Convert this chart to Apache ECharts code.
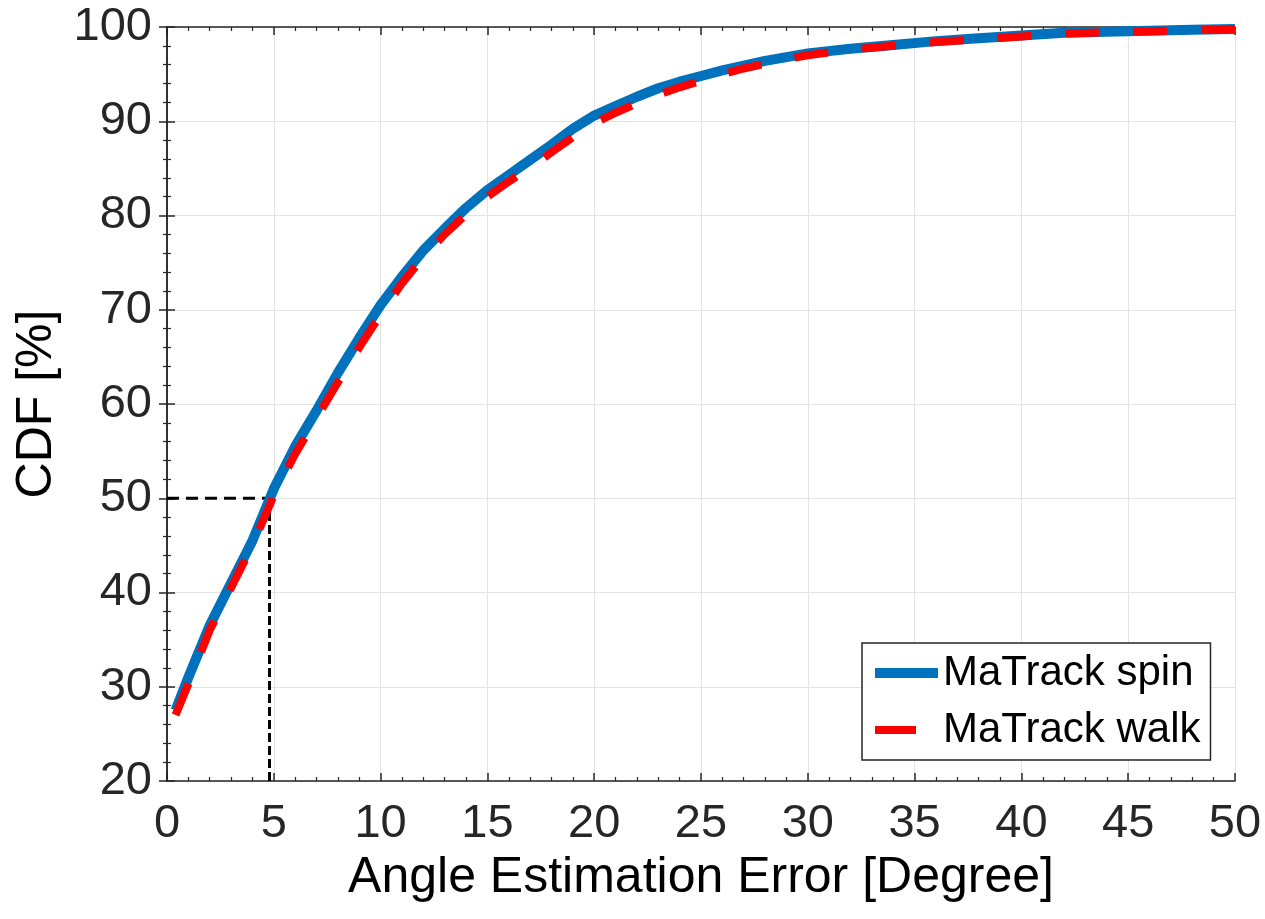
<!DOCTYPE html>
<html>
<head>
<meta charset="utf-8">
<script src="https://cdn.jsdelivr.net/npm/echarts@6/dist/echarts.min.js"></script>
<style>html,body{margin:0;padding:0;background:#fff;}#c{width:1265px;height:919px;}</style>
</head>
<body>
<div id="c"></div>
<script>
const xValues = [0.4, 1, 2, 3, 4, 5, 6, 7, 8, 9, 10, 11, 12, 13, 14, 15, 16, 17, 18, 19, 20, 21, 22, 23, 24, 25, 26, 27, 28, 29, 30, 32, 34, 36, 38, 40, 42, 44, 46, 48, 50];
const spinCdf = [27.5, 31, 36.5, 41, 45.5, 51, 55.5, 59.3, 63.3, 67, 70.5, 73.5, 76.3, 78.6, 80.8, 82.7, 84.3, 85.9, 87.5, 89.2, 90.6, 91.6, 92.6, 93.5, 94.2, 94.8, 95.4, 95.9, 96.4, 96.8, 97.2, 97.7, 98.1, 98.5, 98.8, 99.1, 99.4, 99.5, 99.6, 99.7, 99.8];
const walkCdf = [27, 30.3, 36, 40.5, 45, 50.3, 54.7, 58.5, 62.3, 66, 69.5, 72.8, 75.6, 78, 80.1, 82, 83.6, 85.1, 86.7, 88.3, 89.8, 90.9, 91.9, 92.8, 93.6, 94.3, 95, 95.6, 96.1, 96.6, 97, 97.6, 98, 98.4, 98.7, 99, 99.3, 99.45, 99.55, 99.65, 99.75];
const seriesNames = ['MaTrack spin', 'MaTrack walk'];
const medianX = [0, 4.8];
const medianY = [50, 50];
const medianVX = [4.8, 4.8];
const medianVY = [20, 50];
const xTitle = 'Angle Estimation Error [Degree]';
const yTitle = 'CDF [%]';

const pairs = (xs, ys) => xs.map((x, i) => [x, ys[i]]);
const FONT = '"Liberation Sans", Arial, sans-serif';
const AX = '#262626';
const BLUE = '#0072bd';
const RED = '#ff0000';

const baseAxis = (extra) => Object.assign({
  type: 'value',
  axisLine: { show: true, lineStyle: { color: AX, width: 1.5 } },
  axisTick: { show: true, inside: true, length: 8, lineStyle: { color: AX, width: 1.5 } },
  minorTick: { show: true, splitNumber: 5, length: 4, lineStyle: { color: AX, width: 1.2 } },
  splitLine: { show: false },
  minorSplitLine: { show: false }
}, extra);

const chart = echarts.init(document.getElementById('c'), null, { renderer: 'canvas' });
chart.setOption({
  backgroundColor: '#ffffff',
  animation: false,
  grid: { left: 167, top: 27, right: 30, bottom: 138 },
  legend: {
    data: [
      { name: seriesNames[0], icon: 'path://M0,0L63,0L63,10L0,10Z', itemStyle: { color: BLUE } },
      { name: seriesNames[1], icon: 'path://M0,1L41,1L41,9L0,9Z M63,0L63,10L63,0Z', itemStyle: { color: RED } }
    ],
    orient: 'vertical',
    left: 862,
    top: 643,
    itemWidth: 63,
    itemHeight: 10,
    itemGap: 11,
    padding: [7, 10, 7, 13],
    borderColor: AX,
    borderWidth: 1.5,
    backgroundColor: '#fff',
    textStyle: { fontFamily: FONT, fontSize: 42, color: '#000', lineHeight: 46 }
  },
  xAxis: [
    baseAxis({
      min: 0, max: 50, interval: 5, position: 'bottom',
      name: xTitle, nameLocation: 'middle', nameGap: 66,
      nameTextStyle: { fontFamily: FONT, fontSize: 50, color: '#000' },
      axisLabel: { fontFamily: FONT, fontSize: 47, color: AX, margin: 20 },
      splitLine: { show: true, lineStyle: { color: '#e3e3e3', width: 1 } }
    }),
    baseAxis({ min: 0, max: 50, interval: 5, position: 'top', axisLabel: { show: false } })
  ],
  yAxis: [
    baseAxis({
      min: 20, max: 100, interval: 10, position: 'left',
      name: yTitle, nameLocation: 'middle', nameGap: 100,
      nameTextStyle: { fontFamily: FONT, fontSize: 50, color: '#000' },
      axisLabel: { fontFamily: FONT, fontSize: 47, color: AX, margin: 15 },
      splitLine: { show: true, lineStyle: { color: '#e3e3e3', width: 1 } }
    }),
    baseAxis({ min: 20, max: 100, interval: 10, position: 'right', axisLabel: { show: false } })
  ],
  series: [
    {
      name: 'medianH', type: 'line', data: pairs(medianX, medianY), symbol: 'none', silent: true,
      lineStyle: { color: '#000', width: 3, type: [12, 7] }, z: 1
    },
    {
      name: 'medianV', type: 'line', data: pairs(medianVX, medianVY), symbol: 'none', silent: true,
      lineStyle: { color: '#000', width: 3, type: [9, 4] }, z: 1
    },
    {
      name: seriesNames[0], type: 'line', data: pairs(xValues, spinCdf), symbol: 'none', smooth: false,
      lineStyle: { color: BLUE, width: 10, cap: 'butt', join: 'round' }, itemStyle: { color: BLUE }, z: 2
    },
    {
      name: seriesNames[1], type: 'line', data: pairs(xValues, walkCdf), symbol: 'none', smooth: false,
      lineStyle: { color: RED, width: 8, type: [34, 34], cap: 'butt', join: 'round' }, itemStyle: { color: RED }, z: 3
    }
  ]
});
</script>
</body>
</html>
